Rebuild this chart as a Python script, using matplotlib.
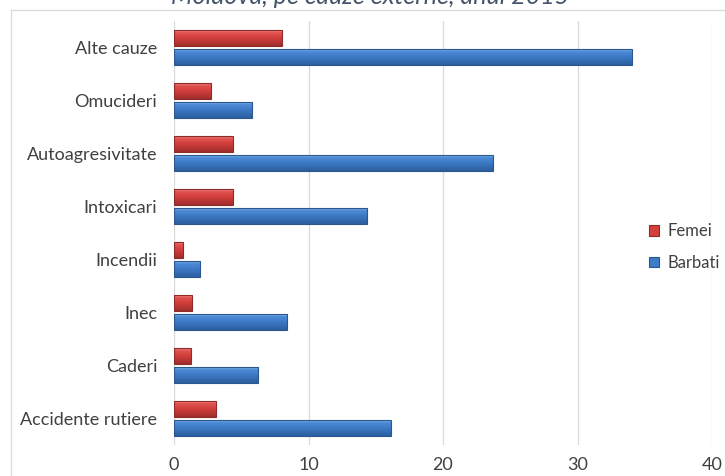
import matplotlib
matplotlib.use("Agg")
import matplotlib.pyplot as plt
import numpy as np
from matplotlib.patches import Rectangle
from matplotlib.lines import Line2D
from matplotlib.colors import LinearSegmentedColormap

categories = ["Accidente rutiere", "Caderi", "Inec", "Incendii",
              "Intoxicari", "Autoagresivitate", "Omucideri", "Alte cauze"]
femei = [3.1, 1.24, 1.31, 0.69, 4.35, 4.35, 2.73, 8.05]
barbati = [16.1, 6.22, 8.43, 1.91, 14.37, 23.7, 5.83, 34.03]
xticks = [0, 10, 20, 30, 40]
title = "Moldova, pe cauze externe, anul 2015"

plt.rcParams['font.family'] = ['Lato', 'DejaVu Sans']

W, H = 725, 476
fig = plt.figure(figsize=(W/100, H/100), dpi=100)
ax = fig.add_axes([174/W, 1-445/H, (712-174)/W, (445-21)/H])

y = np.arange(len(categories))
h = 0.30
gap = 0.06
red_fc, red_ec = '#D43F3D', '#8E2A28'
blue_fc, blue_ec = '#3E7BC8', '#2B568E'

rb = ax.barh(y + (h+gap)/2, femei, height=h, color=red_fc, edgecolor=red_ec,
             linewidth=0.8, label='Femei', zorder=3)
bb = ax.barh(y - (h+gap)/2, barbati, height=h, color=blue_fc, edgecolor=blue_ec,
             linewidth=0.8, label='Barbati', zorder=3)

red_cmap = LinearSegmentedColormap.from_list(
    'r', [(0, '#A02E2C'), (0.55, '#D43F3D'), (0.85, '#E05452'), (1, '#F08A88')])
blue_cmap = LinearSegmentedColormap.from_list(
    'b', [(0, '#2C5F9E'), (0.55, '#3E7BC8'), (0.85, '#4C8BD6'), (1, '#86B8EE')])
grad = np.linspace(0, 1, 64).reshape(-1, 1)
for bars, cmap in ((rb, red_cmap), (bb, blue_cmap)):
    for p in bars:
        x0, y0 = p.get_x(), p.get_y()
        w, hh = p.get_width(), p.get_height()
        im = ax.imshow(grad, cmap=cmap, aspect='auto', origin='lower',
                       extent=(x0, x0 + w, y0, y0 + hh), zorder=3.5,
                       interpolation='bilinear')
        im.set_clip_path(p)
        p.set_zorder(4)
        p.set_facecolor('none')

ax.set_xlim(0, 40)
ax.set_ylim(-0.5, len(categories)-0.5)
ax.set_xticks(xticks)
ax.set_yticks(y)
ax.set_yticklabels(categories)
ax.tick_params(axis='both', length=0, labelsize=13, colors='#404040')
ax.tick_params(axis='x', pad=9)
ax.tick_params(axis='y', pad=12)
ax.grid(axis='x', color='#D9D9D9', linewidth=0.9, zorder=0)
for s in ax.spines.values():
    s.set_visible(False)

handles = [Rectangle((0, 0), 1, 1, fc=red_fc, ec=red_ec, lw=0.8),
           Rectangle((0, 0), 1, 1, fc=blue_fc, ec=blue_ec, lw=0.8)]
leg = fig.legend(handles, ['Femei', 'Barbati'], loc='center left',
                 bbox_to_anchor=(649/W, 1-247/H), frameon=False,
                 fontsize=12, handlelength=0.6, handleheight=0.6,
                 handletextpad=0.5, labelspacing=0.95, borderaxespad=0,
                 borderpad=0)
for t in leg.get_texts():
    t.set_color('#404040')

# chart area border (top and left)
fig.add_artist(Line2D([11/W, 1], [1-10/H, 1-10/H], color='#D9D9D9', lw=0.9))
fig.add_artist(Line2D([11/W, 11/W], [0, 1-10/H], color='#D9D9D9', lw=0.9))

fig.text(370/W, 1-4/H, title, ha='center', va='baseline', fontsize=18,
         style='italic', color='#44546A')

fig.savefig('out.png', dpi=100)
